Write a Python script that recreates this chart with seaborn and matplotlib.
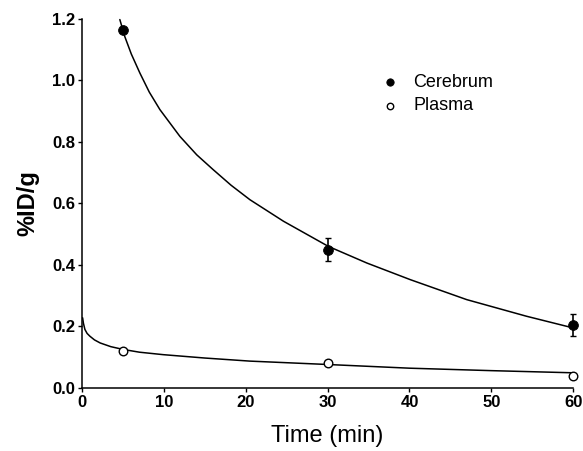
import numpy as np
import pandas as pd
import matplotlib
matplotlib.use("Agg")
import matplotlib.pyplot as plt
import seaborn as sns

# measured points
time_pts = [5, 30, 60]
cerebrum = [1.165, 0.45, 0.205]
cerebrum_err = [0.0, 0.037, 0.035]
plasma = [0.12, 0.082, 0.04]

# fitted curves
cer_fit_t = [4.6, 5.2, 6.0, 7.05, 8.2, 9.5, 11.94, 14.0, 16.0, 18.2, 20.5, 24.6, 30.1, 34.8, 40.1, 47.0, 54.3, 60.0]
cer_fit_y = [1.198, 1.143, 1.086, 1.024, 0.962, 0.905, 0.818, 0.758, 0.710, 0.659, 0.612, 0.542, 0.460, 0.406, 0.352, 0.287, 0.233, 0.195]
pla_fit_t = [0.05, 0.15, 0.33, 0.6, 0.94, 1.5, 2.2, 3.5, 5.0, 7.0, 9.9, 15.0, 20.5, 30.0, 40.0, 50.0, 60.0]
pla_fit_y = [0.228, 0.210, 0.190, 0.177, 0.168, 0.156, 0.146, 0.134, 0.125, 0.116, 0.108, 0.097, 0.087, 0.076, 0.064, 0.056, 0.049]

sns.set_theme(style="ticks", rc={"text.color": "black", "axes.labelcolor": "black",
                                 "xtick.color": "black", "ytick.color": "black"})
plt.rcParams['font.family'] = ['Liberation Sans', 'DejaVu Sans']

fig, ax = plt.subplots(figsize=(5.83, 4.51), dpi=100)
fig.subplots_adjust(left=0.141, right=0.983, top=0.958, bottom=0.140)

sns.lineplot(x=cer_fit_t, y=cer_fit_y, ax=ax, color="black", linewidth=1.1, clip_on=False)
sns.lineplot(x=pla_fit_t, y=pla_fit_y, ax=ax, color="black", linewidth=1.1, clip_on=False)

ax.errorbar(time_pts, cerebrum, yerr=cerebrum_err, fmt="none", ecolor="black",
            elinewidth=1.2, capsize=2.5, capthick=1.0, clip_on=False)
sns.scatterplot(x=time_pts, y=cerebrum, ax=ax, color="black", edgecolor="black",
                s=50, marker="o", label="Cerebrum", zorder=5, clip_on=False)
sns.scatterplot(x=time_pts, y=plasma, ax=ax, facecolor="white", edgecolor="black",
                linewidth=1.0, s=38, marker="o", label="Plasma", zorder=5, clip_on=False)

ax.set_xlim(0, 60)
ax.set_ylim(0, 1.2)
ax.set_xticks(range(0, 61, 10))
ax.set_yticks(np.arange(0, 1.21, 0.2))
ax.set_yticklabels([f"{v:.1f}" for v in np.arange(0, 1.21, 0.2)])
ax.tick_params(axis="both", direction="out", length=3, width=1, labelsize=12, pad=2)
for lab in ax.get_xticklabels() + ax.get_yticklabels():
    lab.set_fontweight("bold")
for sp in ["left", "bottom"]:
    ax.spines[sp].set_linewidth(1.1)
    ax.spines[sp].set_color("black")
sns.despine(ax=ax)

ax.set_xlabel("Time (min)", fontsize=17, labelpad=11)
ax.set_ylabel("%ID/g", fontsize=17, fontweight="bold", labelpad=9)

leg = ax.legend(loc="upper left", bbox_to_anchor=(0.557, 0.895), frameon=False,
                fontsize=13, handletextpad=0.3, labelspacing=0.35, markerscale=0.75)

fig.savefig("out.png", dpi=100)
